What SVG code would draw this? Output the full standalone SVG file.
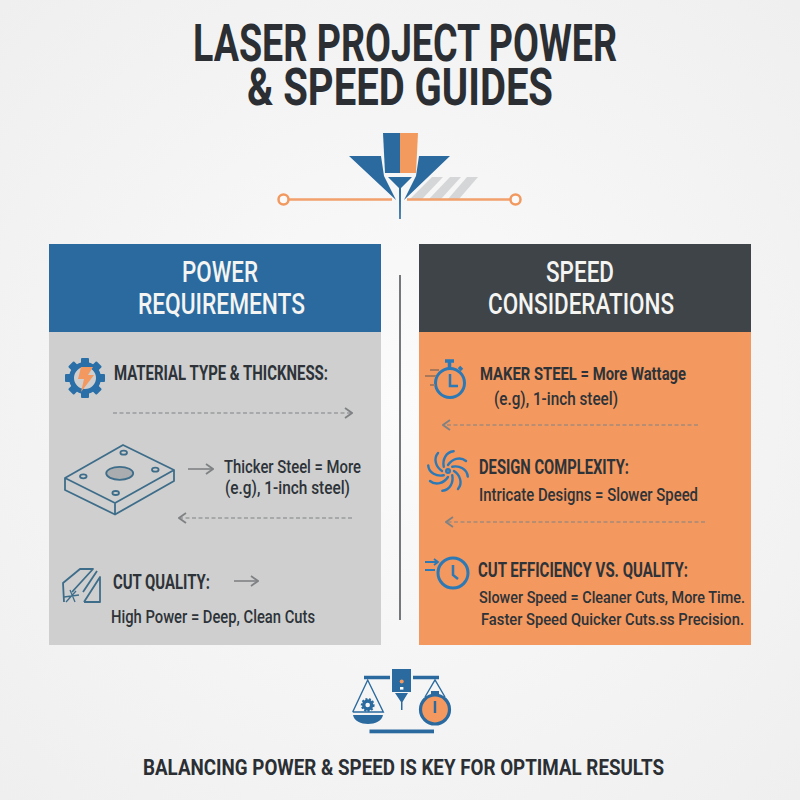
<svg xmlns="http://www.w3.org/2000/svg" width="800" height="800" viewBox="0 0 800 800">
<style>
text{font-family:Roboto,"Liberation Sans",Arial,sans-serif;fill:#2d3338}
.title{font-size:52px;font-weight:700;fill:#2b2f33}
.head{font-size:29px;font-weight:500;fill:#f4f4f2}
.b{font-size:20px;font-weight:700}
.n{font-size:18.500px;font-weight:500}
.s{font-size:17px;font-weight:500}
.foot{font-size:22px;font-weight:700;fill:#2b2f33}
.arrow{fill:none;stroke:#7f8284;stroke-width:1.6}
.dash{stroke-dasharray:4 2.5;stroke-width:1.2}
.ic{fill:none;stroke:#2c79b5;stroke-width:3}
.ln{fill:none;stroke:#3e6d8a;stroke-width:1.8;stroke-linejoin:round}
.bl{fill:#2a6a9f}
</style>
<defs>
<radialGradient id="bg" cx="50%" cy="50%" r="70%"><stop offset="0" stop-color="#fbfbfb"/><stop offset="1" stop-color="#efefef"/></radialGradient>
<marker id="ah" viewBox="0 0 10 12" refX="9" refY="6" markerWidth="10" markerHeight="12" markerUnits="userSpaceOnUse" orient="auto-start-reverse"><path d="M2 1L9 6L2 11" fill="none" stroke="#7f8284" stroke-width="1.8"/></marker>
</defs>
<rect width="800" height="800" fill="url(#bg)"/>

<g id="title">
<text class="title" x="193" y="61" textLength="424" lengthAdjust="spacingAndGlyphs">LASER PROJECT POWER</text>
<text class="title" x="247" y="105" textLength="306" lengthAdjust="spacingAndGlyphs">&amp; SPEED GUIDES</text>
</g>

<g id="laser-icon">
<g fill="#c9cccd" opacity=".75">
<polygon points="432,177 443,177 422,199 410,199"/>
<polygon points="450,177 461,177 441,199 429,199"/>
<polygon points="467,177 478,177 459,199 448,199"/>
</g>
<path d="M289 199.500H392M407 199.500H510" stroke="#f2a06c" stroke-width="2.400"/>
<circle cx="283.500" cy="199.500" r="5" fill="#fafafa" stroke="#f2995f" stroke-width="2.500"/>
<circle cx="515.500" cy="199.500" r="5" fill="#fafafa" stroke="#f2995f" stroke-width="2.500"/>
<polygon class="bl" points="349,156 381,156 384,176 396,200"/>
<polygon class="bl" points="450,156 419,156 416,176 404,200"/>
<polygon class="bl" points="383,133 400,133 400,173 385,173"/>
<polygon fill="#f39a5e" points="400,133 418,133 416,173 400,173"/>
<polygon class="bl" points="388,177 412,177 401,188 400.800,219 399.200,219 399,188"/>
</g>

<g id="panel-power">
<rect x="49" y="332" width="332" height="313" fill="#cfcfcf"/>
<rect x="49" y="244" width="332" height="88" fill="#2a6a9f"/>
<text class="head" x="182" y="282" textLength="76" lengthAdjust="spacingAndGlyphs">POWER</text>
<text class="head" x="138" y="314" textLength="167" lengthAdjust="spacingAndGlyphs">REQUIREMENTS</text>
</g>

<g id="panel-speed">
<rect x="419" y="332" width="332" height="313" fill="#f3985f"/>
<rect x="419" y="244" width="332" height="88" fill="#3e4448"/>
<text class="head" x="546" y="282" textLength="68" lengthAdjust="spacingAndGlyphs">SPEED</text>
<text class="head" x="488" y="314" textLength="186" lengthAdjust="spacingAndGlyphs">CONSIDERATIONS</text>
</g>

<g id="divider"><path d="M400 275V620" stroke="#74787a" stroke-width="2"/></g>

<g id="connectors">
<path class="arrow dash" d="M113 413H352" marker-end="url(#ah)"/>
<path class="arrow" d="M188 469H213" marker-end="url(#ah)"/>
<path class="arrow dash" d="M352 518H179" marker-end="url(#ah)"/>
<path class="arrow" d="M234 581H258" marker-end="url(#ah)"/>
<path class="arrow dash" d="M698 425H443" marker-end="url(#ah)"/>
<path class="arrow dash" d="M705 522H446" marker-end="url(#ah)"/>
</g>

<g id="gear-icon">
<g fill="#2a6fa8">
<rect x="81" y="358" width="8" height="40" rx="1"/>
<rect x="81" y="358" width="8" height="40" rx="1" transform="rotate(45 85 378)"/>
<rect x="81" y="358" width="8" height="40" rx="1" transform="rotate(90 85 378)"/>
<rect x="81" y="358" width="8" height="40" rx="1" transform="rotate(135 85 378)"/>
</g>
<circle cx="85" cy="378" r="13.500" fill="#cfcfcf" stroke="#2a6fa8" stroke-width="5"/>
<polygon points="81,367 93,367 88,375 94,375 81,392 84,379 78,379" fill="#f3985f"/>
</g>
<g id="material-text"><text class="b" x="114" y="380" textLength="214" lengthAdjust="spacingAndGlyphs">MATERIAL TYPE &amp; THICKNESS:</text></g>

<g id="plate-icon" class="ln">
<path d="M65 478L123 445L174 470L115 503ZM65 478V490L115 514.500L174 481V470M115 503V514.500"/>
<ellipse cx="119.700" cy="473.300" rx="13.500" ry="6.500" fill="#a9adaf"/>
<ellipse cx="123.700" cy="452.700" rx="3.300" ry="2"/>
<ellipse cx="155.300" cy="469.700" rx="3.300" ry="2"/>
<ellipse cx="83.300" cy="476.300" rx="3.300" ry="2"/>
<ellipse cx="115.700" cy="493" rx="3.300" ry="2"/>
</g>
<g id="thicker-text">
<text class="n" x="224" y="473" textLength="137" lengthAdjust="spacingAndGlyphs">Thicker Steel = More</text>
<text class="n" x="225" y="494" textLength="125" lengthAdjust="spacingAndGlyphs">(e.g), 1-inch steel)</text>
</g>

<g id="cut-icon" class="ln">
<path d="M64 602L63 583L80 569H93L72 592"/>
<path d="M84 602L100 577V602H84M83 592L97 571"/>
<path d="M70 590L75 602M64 597L79 595M66 602L76 591" stroke-width="1.300"/>
</g>
<g id="cut-text">
<text class="b" x="113" y="589" textLength="97" lengthAdjust="spacingAndGlyphs">CUT QUALITY:</text>
<text class="n" x="111" y="623" textLength="204" lengthAdjust="spacingAndGlyphs">High Power = Deep, Clean Cuts</text>
</g>

<g id="stopwatch-icon">
<circle class="ic" cx="450" cy="383" r="14.500"/>
<path d="M445 361H454M449.500 361V368M459 367L462 370" stroke="#2c79b5" stroke-width="3.500" fill="none"/>
<path d="M450 374V386H458" stroke="#2c79b5" stroke-width="2.500" fill="none"/>
<path d="M430 370H439M425 376H436M430 385H435" stroke="#a9785b" stroke-width="1.800" fill="none"/>
</g>
<g id="maker-text">
<text class="n" x="480" y="380" textLength="206" lengthAdjust="spacingAndGlyphs" style="font-weight:700">MAKER STEEL = More Wattage</text>
<text class="n" x="494" y="405" textLength="124" lengthAdjust="spacingAndGlyphs">(e.g), 1-inch steel)</text>
</g>

<g id="swirl-icon" fill="none" stroke="#2c79b5" stroke-width="2.400" stroke-linecap="round">
<path d="M448 465C452 459 460 456 466 461"/>
<path d="M448 465C452 459 460 456 466 461" transform="rotate(45 448 471)"/>
<path d="M448 465C452 459 460 456 466 461" transform="rotate(90 448 471)"/>
<path d="M448 465C452 459 460 456 466 461" transform="rotate(135 448 471)"/>
<path d="M448 465C452 459 460 456 466 461" transform="rotate(180 448 471)"/>
<path d="M448 465C452 459 460 456 466 461" transform="rotate(225 448 471)"/>
<path d="M448 465C452 459 460 456 466 461" transform="rotate(270 448 471)"/>
<path d="M448 465C452 459 460 456 466 461" transform="rotate(315 448 471)"/>
<circle cx="448" cy="471" r="1.800"/>
</g>
<g id="design-text">
<text class="b" x="479" y="474" textLength="150" lengthAdjust="spacingAndGlyphs">DESIGN COMPLEXITY:</text>
<text class="n" x="479" y="501" textLength="219" lengthAdjust="spacingAndGlyphs">Intricate Designs = Slower Speed</text>
</g>

<g id="clock-icon">
<circle class="ic" cx="453" cy="573" r="15"/>
<path d="M453 565V575L458 579" stroke="#2c79b5" stroke-width="2.500" fill="none"/>
<path d="M425 562H438M434 559L438 562L434 565M425 570H435" stroke="#2c79b5" stroke-width="1.800" fill="none"/>
</g>
<g id="efficiency-text">
<text class="b" x="478" y="577" textLength="210" lengthAdjust="spacingAndGlyphs">CUT EFFICIENCY VS. QUALITY:</text>
<text class="s" x="479" y="603" textLength="266" lengthAdjust="spacingAndGlyphs">Slower Speed = Cleaner Cuts, More Time.</text>
<text class="s" x="481" y="625" textLength="263" lengthAdjust="spacingAndGlyphs">Faster Speed Quicker Cuts.ss Precision.</text>
</g>

<g id="balance-icon">
<path d="M364 677.500H390M413 677.500H439" stroke="#2a6a9f" stroke-width="3.500"/>
<rect class="bl" x="392" y="669" width="19" height="23"/>
<circle cx="401.700" cy="681.500" r="2" fill="#f3985f"/>
<rect x="400" y="687" width="3.400" height="2.600" fill="#fff"/>
<polygon class="bl" points="395,693 408,693 402.500,702 402.500,710 401,710 401,702"/>
<path d="M352.700 712L367.700 680L383.300 712H352.700" fill="none" stroke="#2a6a9f" stroke-width="1.400"/>
<path d="M353 715H383C382 721 375 724 368 724C361 724 354 721 353 715Z" class="bl"/>
<circle cx="367.700" cy="705" r="4" fill="none" stroke="#2a6a9f" stroke-width="3.400"/>
<circle cx="367.700" cy="705" r="6" fill="none" stroke="#2a6a9f" stroke-width="1.800" stroke-dasharray="2 1.600"/>
<path d="M425 697L435 680L445 697" fill="none" stroke="#2a6a9f" stroke-width="1.400"/>
<rect class="bl" x="431" y="691" width="8" height="3.500"/>
<circle cx="435" cy="709.500" r="14.500" fill="#f3985f" stroke="#2a6a9f" stroke-width="3.200"/>
<path d="M435 701V713" stroke="#2a6a9f" stroke-width="2.400"/>
<rect class="bl" x="369.500" y="729.500" width="64.500" height="3.800"/>
</g>

<g id="footer"><text class="foot" x="143" y="775" textLength="521" lengthAdjust="spacingAndGlyphs">BALANCING POWER &amp; SPEED IS KEY FOR OPTIMAL RESULTS</text></g>
</svg>
